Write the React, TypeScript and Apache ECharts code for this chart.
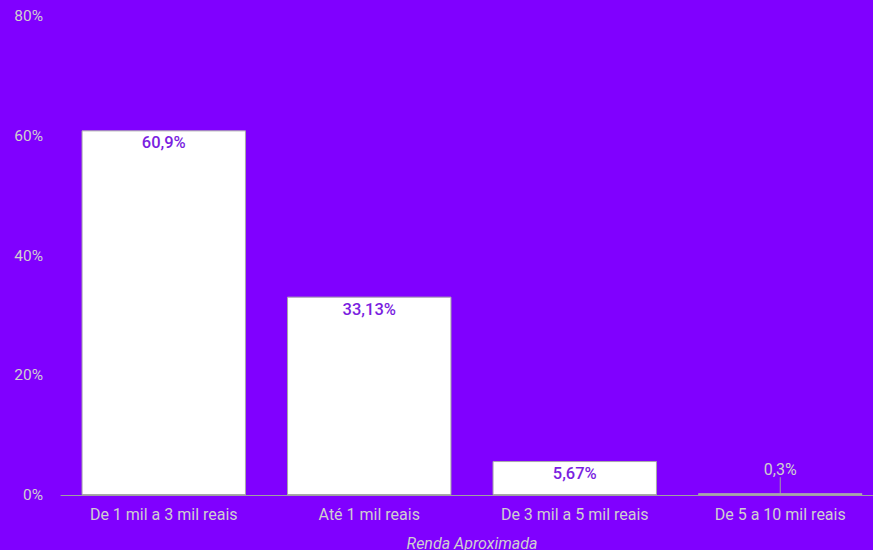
import React, { useEffect, useRef } from "react";
import * as echarts from "echarts";

const categories = ["De 1 mil a 3 mil reais", "Até 1 mil reais", "De 3 mil a 5 mil reais", "De 5 a 10 mil reais"];
const values = [60.9, 33.13, 5.67, 0.3];
const valueLabels = ["60,9%", "33,13%", "5,67%", "0,3%"];
const axisTitle = "Renda Aproximada";

export default function App() {
  const ref = useRef<HTMLDivElement>(null);
  useEffect(() => {
    document.body.style.margin = "0";
    document.body.style.overflow = "hidden";
    const chart = echarts.init(ref.current!, null, { renderer: "svg" });
    chart.setOption({
      animation: false,
      backgroundColor: "#8000ff",
      grid: { left: 61, right: -10, top: 16, bottom: 55, outerBoundsMode: "none", containLabel: false },
      xAxis: {
        type: "category",
        data: categories,
        name: axisTitle,
        nameLocation: "middle",
        nameGap: 40,
        nameTextStyle: { color: "#cfcfcf", fontStyle: "italic", fontSize: 16, fontFamily: "Roboto" },
        axisLine: { lineStyle: { color: "#a0a0a0" } },
        axisTick: { show: false },
        axisLabel: { color: "#cfcfcf", fontSize: 16, fontFamily: "Roboto", margin: 11 },
      },
      yAxis: {
        type: "value",
        min: 0,
        max: 80,
        interval: 20,
        splitLine: { show: false },
        axisLine: { show: false },
        axisTick: { show: false },
        axisLabel: { color: "#cfcfcf", fontSize: 15.5, fontFamily: "Roboto", formatter: "{value}%", margin: 18 },
      },
      series: [
        {
          type: "bar",
          barCategoryGap: "20%",
          itemStyle: { color: "#ffffff", borderColor: "#a8a8a8", borderWidth: 1 },
          label: {
            show: true,
            position: "insideTop",
            distance: 4,
            color: "#7a1ee0",
            fontSize: 16.5,
            fontWeight: 500,
            fontFamily: "Roboto",
            formatter: (p: any) => valueLabels[p.dataIndex],
          },
          labelLayout: (p: any) => (p.dataIndex === values.length - 1 ? { dy: -14 } : {}),
          data: values.map((v, i) =>
            i === values.length - 1
              ? {
                  value: v,
                  label: { position: "top", distance: 2, color: "#cfcfcf", fontWeight: 400, fontSize: 16 },
                  labelLine: { show: true, lineStyle: { color: "#a0a0a0", width: 1 } },
                }
              : v
          ),
        },
      ],
    });
    return () => chart.dispose();
  }, []);
  return <div ref={ref} style={{ width: 873, height: 550 }} />;
}
